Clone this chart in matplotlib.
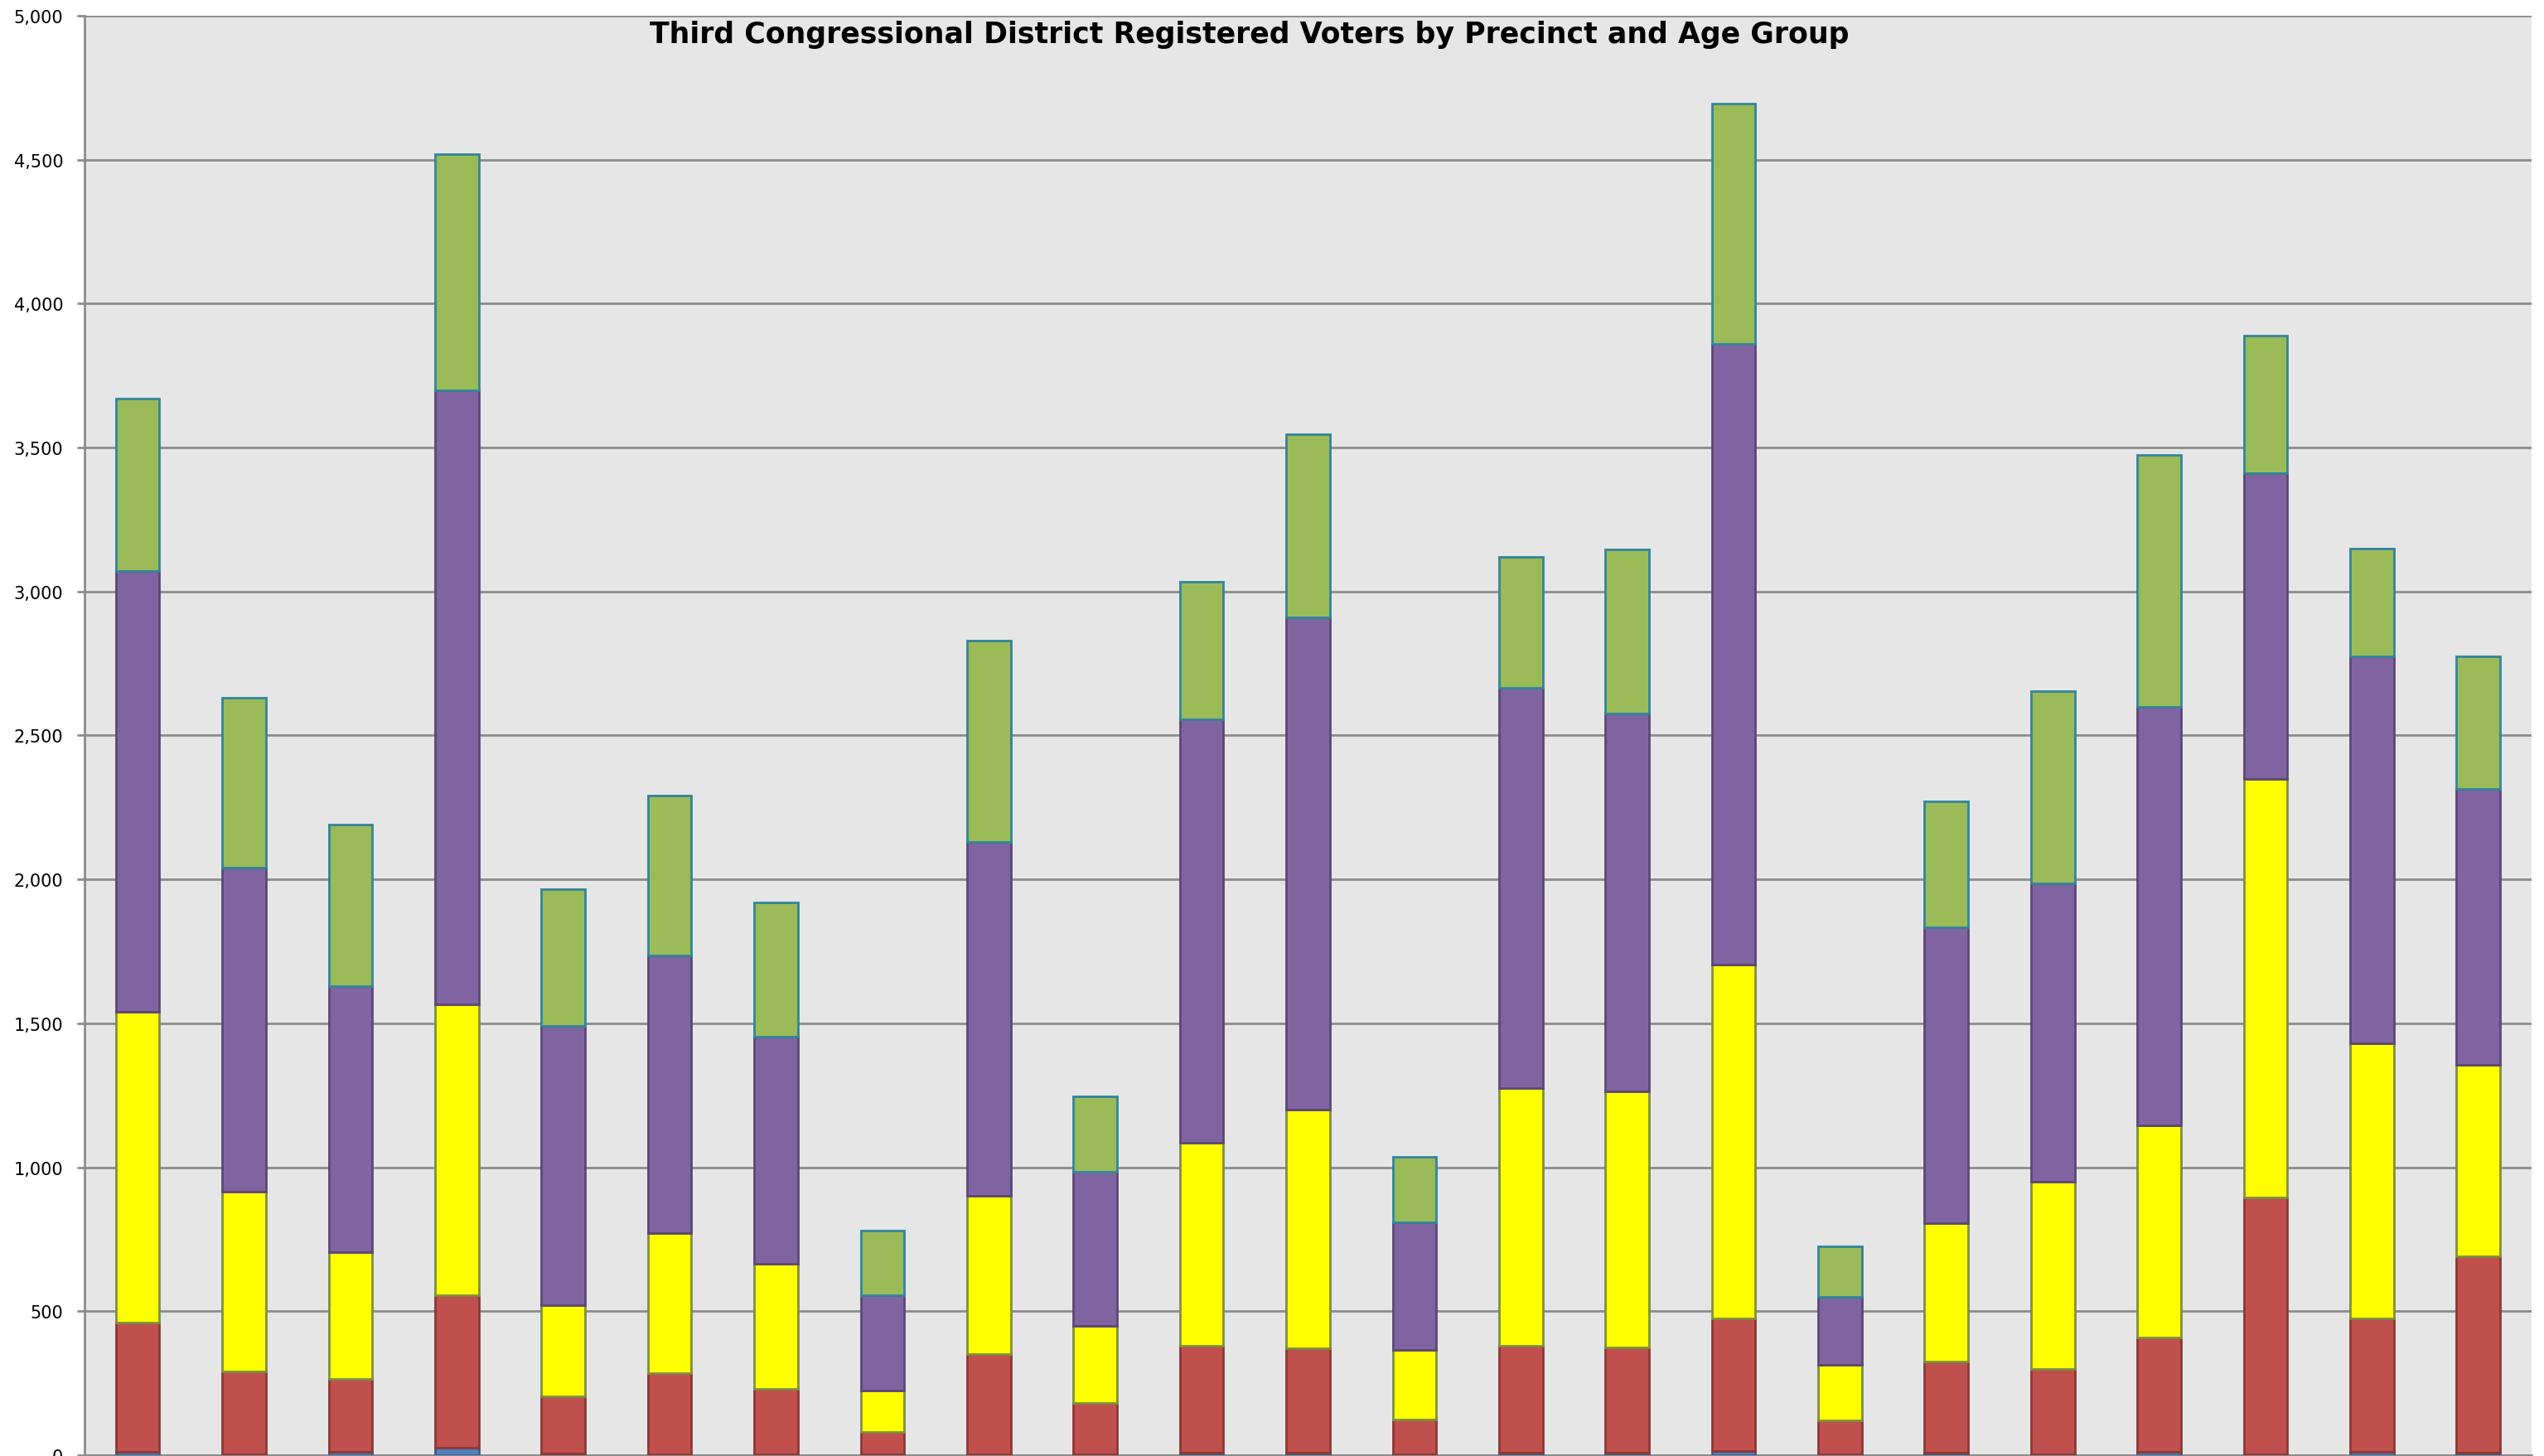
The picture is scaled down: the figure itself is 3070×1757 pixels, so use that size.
import numpy as np
import matplotlib.pyplot as plt
from matplotlib.ticker import FuncFormatter

# segment values per precinct, bottom to top
age_a = [10, 3, 10, 25, 5, 3, 2, 2, 3, 3, 8, 8, 3, 8, 8, 15, 3, 8, 3, 10, 3, 12, 8]
age_b = [450, 287, 255, 530, 200, 282, 228, 78, 347, 177, 372, 362, 122, 372, 367, 460, 117, 317, 297, 400, 892, 463, 682]
age_c = [1080, 625, 440, 1010, 315, 485, 435, 145, 550, 270, 705, 830, 240, 895, 890, 1230, 195, 480, 650, 735, 1455, 955, 665]
age_d = [1530, 1125, 925, 2135, 970, 965, 790, 330, 1230, 535, 1470, 1710, 445, 1390, 1310, 2155, 235, 1030, 1035, 1455, 1060, 1345, 960]
age_e = [600, 590, 560, 820, 475, 555, 465, 225, 700, 260, 480, 635, 225, 455, 570, 835, 175, 435, 670, 875, 480, 375, 460]

series = [age_a, age_b, age_c, age_d, age_e]
fills = ["#4f81bd", "#c0504d", "#ffff00", "#8064a2", "#9bbb59"]
edges = ["#385d8a", "#8c3836", "#7f8f3f", "#5c4776", "#31859c"]

fig = plt.figure(figsize=(30.7, 17.58), dpi=100)
ax = fig.add_axes([0.0332, 0.0006, 0.9619, 0.988])
ax.set_facecolor("#e6e6e6")

x = np.arange(len(age_a))
bottom = np.zeros(len(age_a))
for vals, fc, ec in zip(series, fills, edges):
    ax.bar(x, vals, width=0.41, bottom=bottom, color=fc, edgecolor=ec,
           linewidth=2, zorder=3)
    bottom += np.array(vals)

ax.set_xlim(-0.5, len(age_a) - 0.5)
ax.set_ylim(0, 5000)
ax.set_yticks(np.arange(0, 5001, 500))
ax.yaxis.set_major_formatter(FuncFormatter(lambda v, p: f"{int(v):,}"))
ax.set_xticks([])
ax.grid(axis="y", color="#8c8c8c", linewidth=2, zorder=0)
ax.tick_params(axis="y", length=6.5, width=2, color="#8c8c8c", labelsize=15, pad=12)
for s in ["left", "bottom"]:
    ax.spines[s].set_color("#8c8c8c")
    ax.spines[s].set_linewidth(2)
ax.spines["right"].set_visible(False)
ax.spines["top"].set_visible(False)

ax.text(0.476, 0.997, "Third Congressional District Registered Voters by Precinct and Age Group",
        transform=ax.transAxes, ha="center", va="top", fontsize=25, fontweight="bold",
        family=["Liberation Sans Narrow", "DejaVu Sans"])

fig.savefig("out.png", dpi=100)
